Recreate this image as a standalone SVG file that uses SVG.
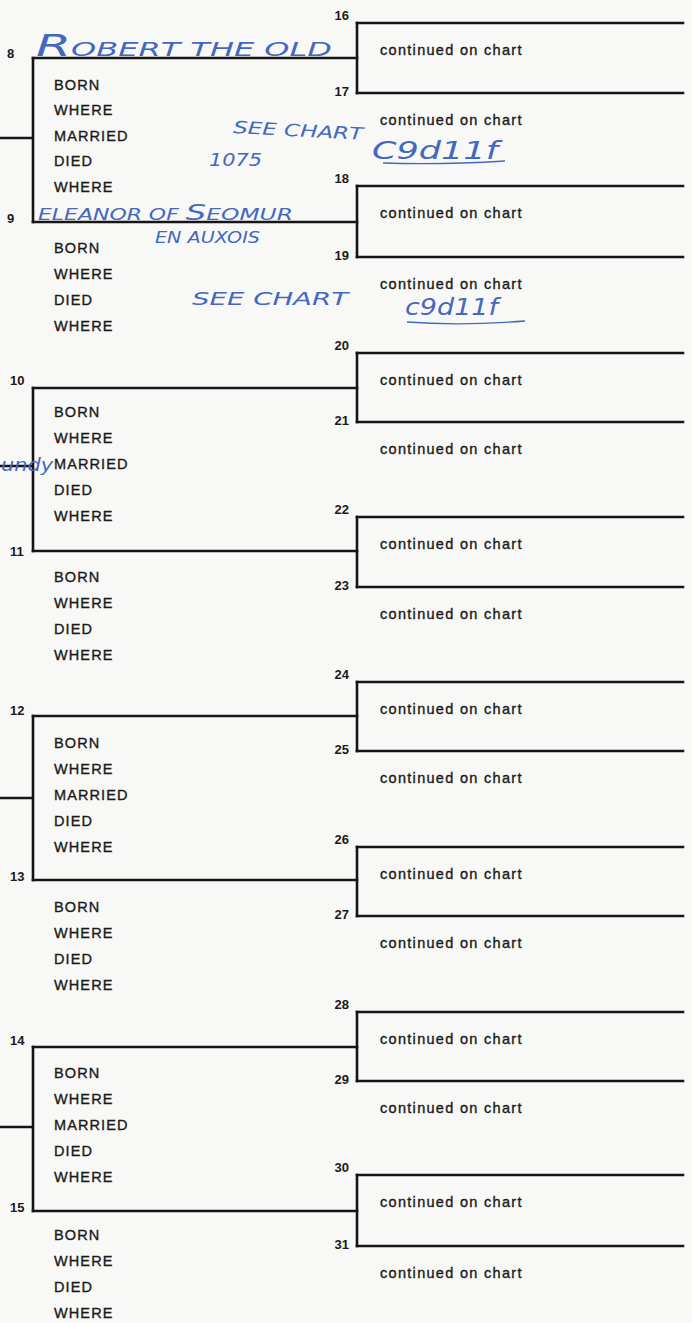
<svg xmlns="http://www.w3.org/2000/svg" width="692" height="1323" viewBox="0 0 692 1323">
<style>
.ln{stroke:#151515;stroke-width:2.6;fill:none;stroke-linecap:square}
.lbl{font-family:"Liberation Sans",Arial,sans-serif;font-size:14.5px;letter-spacing:1.1px;fill:#1a1a1a;stroke:#1a1a1a;stroke-width:0.35px}
.cont{font-family:"Liberation Sans",Arial,sans-serif;font-size:14.5px;letter-spacing:1.3px;fill:#1a1a1a;stroke:#1a1a1a;stroke-width:0.35px}
.num{font-family:"Liberation Sans",Arial,sans-serif;font-size:13px;font-weight:bold;fill:#1a1a1a}
.rn{text-anchor:end}
.hw{font-family:"DejaVu Sans",sans-serif;font-weight:200;font-style:italic;fill:#4467bf}
.ul{stroke:#4467bf;stroke-width:1.3;fill:none}
</style>
<rect x="0" y="0" width="692" height="1323" fill="#f8f8f6"/>

<g id="connectors">
  <path class="ln" d="M0 138H33M33 58V222"/>
  <path class="ln" d="M0 466H33M33 388V551"/>
  <path class="ln" d="M0 798H33M33 716V880"/>
  <path class="ln" d="M0 1127H33M33 1047V1211"/>
  <path class="ln" d="M357 23V93"/>
  <path class="ln" d="M357 186V257"/>
  <path class="ln" d="M357 353V422"/>
  <path class="ln" d="M357 517V587"/>
  <path class="ln" d="M357 682V751"/>
  <path class="ln" d="M357 847V916"/>
  <path class="ln" d="M357 1012V1081"/>
  <path class="ln" d="M357 1175V1246"/>
</g>

<g id="p8">
  <path class="ln" d="M33 58H357"/>
  <text class="num" x="7" y="58">8</text>
  <text class="lbl" x="54" y="89.5">BORN</text>
  <text class="lbl" x="54" y="115">WHERE</text>
  <text class="lbl" x="54" y="140.5">MARRIED</text>
  <text class="lbl" x="54" y="166">DIED</text>
  <text class="lbl" x="54" y="191.5">WHERE</text>
</g>
<g id="p9">
  <path class="ln" d="M33 222H357"/>
  <text class="num" x="7" y="223">9</text>
  <text class="lbl" x="54" y="252.5">BORN</text>
  <text class="lbl" x="54" y="278.5">WHERE</text>
  <text class="lbl" x="54" y="304.5">DIED</text>
  <text class="lbl" x="54" y="330.5">WHERE</text>
</g>
<g id="p10">
  <path class="ln" d="M33 388H357"/>
  <text class="num" x="10" y="385">10</text>
  <text class="lbl" x="54" y="417">BORN</text>
  <text class="lbl" x="54" y="443">WHERE</text>
  <text class="lbl" x="54" y="469">MARRIED</text>
  <text class="lbl" x="54" y="495">DIED</text>
  <text class="lbl" x="54" y="521">WHERE</text>
</g>
<g id="p11">
  <path class="ln" d="M33 551H357"/>
  <text class="num" x="10" y="556">11</text>
  <text class="lbl" x="54" y="581.5">BORN</text>
  <text class="lbl" x="54" y="607.5">WHERE</text>
  <text class="lbl" x="54" y="633.5">DIED</text>
  <text class="lbl" x="54" y="659.5">WHERE</text>
</g>
<g id="p12">
  <path class="ln" d="M33 716H357"/>
  <text class="num" x="10" y="715">12</text>
  <text class="lbl" x="54" y="747.5">BORN</text>
  <text class="lbl" x="54" y="773.5">WHERE</text>
  <text class="lbl" x="54" y="799.5">MARRIED</text>
  <text class="lbl" x="54" y="825.5">DIED</text>
  <text class="lbl" x="54" y="851.5">WHERE</text>
</g>
<g id="p13">
  <path class="ln" d="M33 880H357"/>
  <text class="num" x="10" y="881">13</text>
  <text class="lbl" x="54" y="911.5">BORN</text>
  <text class="lbl" x="54" y="937.5">WHERE</text>
  <text class="lbl" x="54" y="963.5">DIED</text>
  <text class="lbl" x="54" y="989.5">WHERE</text>
</g>
<g id="p14">
  <path class="ln" d="M33 1047H357"/>
  <text class="num" x="10" y="1045">14</text>
  <text class="lbl" x="54" y="1077.5">BORN</text>
  <text class="lbl" x="54" y="1103.5">WHERE</text>
  <text class="lbl" x="54" y="1129.5">MARRIED</text>
  <text class="lbl" x="54" y="1155.5">DIED</text>
  <text class="lbl" x="54" y="1181.5">WHERE</text>
</g>
<g id="p15">
  <path class="ln" d="M33 1211H357"/>
  <text class="num" x="10" y="1212">15</text>
  <text class="lbl" x="54" y="1239.5">BORN</text>
  <text class="lbl" x="54" y="1265.5">WHERE</text>
  <text class="lbl" x="54" y="1291.5">DIED</text>
  <text class="lbl" x="54" y="1317.5">WHERE</text>
</g>

<g id="p16"><path class="ln" d="M357 23H683"/><text class="num rn" x="349" y="20">16</text><text class="cont" x="380" y="54.5">continued on chart</text></g>
<g id="p17"><path class="ln" d="M357 93H683"/><text class="num rn" x="349" y="96">17</text><text class="cont" x="380" y="124.5">continued on chart</text></g>
<g id="p18"><path class="ln" d="M357 186H683"/><text class="num rn" x="349" y="183">18</text><text class="cont" x="380" y="217.5">continued on chart</text></g>
<g id="p19"><path class="ln" d="M357 257H683"/><text class="num rn" x="349" y="260">19</text><text class="cont" x="380" y="288.5">continued on chart</text></g>
<g id="p20"><path class="ln" d="M357 353H683"/><text class="num rn" x="349" y="350">20</text><text class="cont" x="380" y="384.5">continued on chart</text></g>
<g id="p21"><path class="ln" d="M357 422H683"/><text class="num rn" x="349" y="425">21</text><text class="cont" x="380" y="453.5">continued on chart</text></g>
<g id="p22"><path class="ln" d="M357 517H683"/><text class="num rn" x="349" y="514">22</text><text class="cont" x="380" y="548.5">continued on chart</text></g>
<g id="p23"><path class="ln" d="M357 587H683"/><text class="num rn" x="349" y="590">23</text><text class="cont" x="380" y="618.5">continued on chart</text></g>
<g id="p24"><path class="ln" d="M357 682H683"/><text class="num rn" x="349" y="679">24</text><text class="cont" x="380" y="713.5">continued on chart</text></g>
<g id="p25"><path class="ln" d="M357 751H683"/><text class="num rn" x="349" y="754">25</text><text class="cont" x="380" y="782.5">continued on chart</text></g>
<g id="p26"><path class="ln" d="M357 847H683"/><text class="num rn" x="349" y="844">26</text><text class="cont" x="380" y="878.5">continued on chart</text></g>
<g id="p27"><path class="ln" d="M357 916H683"/><text class="num rn" x="349" y="919">27</text><text class="cont" x="380" y="947.5">continued on chart</text></g>
<g id="p28"><path class="ln" d="M357 1012H683"/><text class="num rn" x="349" y="1009">28</text><text class="cont" x="380" y="1043.5">continued on chart</text></g>
<g id="p29"><path class="ln" d="M357 1081H683"/><text class="num rn" x="349" y="1084">29</text><text class="cont" x="380" y="1112.5">continued on chart</text></g>
<g id="p30"><path class="ln" d="M357 1175H683"/><text class="num rn" x="349" y="1172">30</text><text class="cont" x="380" y="1206.5">continued on chart</text></g>
<g id="p31"><path class="ln" d="M357 1246H683"/><text class="num rn" x="349" y="1249">31</text><text class="cont" x="380" y="1277.5">continued on chart</text></g>

<g id="handwriting">
  <text class="hw" x="36" y="56" textLength="296" lengthAdjust="spacingAndGlyphs"><tspan font-size="30">R</tspan><tspan font-size="19">OBERT THE OLD</tspan></text>
  <text class="hw" x="233" y="133" font-size="17" textLength="130" lengthAdjust="spacingAndGlyphs" transform="rotate(3 233 133)">SEE CHART</text>
  <text class="hw" x="372" y="159" font-size="24" textLength="126" lengthAdjust="spacingAndGlyphs">C9d11f</text>
  <path class="ul" d="M383 163Q440 165 505 161"/>
  <text class="hw" x="209" y="166" font-size="17" textLength="53" lengthAdjust="spacingAndGlyphs">1075</text>
  <text class="hw" x="38" y="220" textLength="255" lengthAdjust="spacingAndGlyphs"><tspan font-size="15">ELEANOR OF </tspan><tspan font-size="22">S</tspan><tspan font-size="16">EOMUR</tspan></text>
  <text class="hw" x="155" y="243" font-size="15" textLength="105" lengthAdjust="spacingAndGlyphs">EN AUXOIS</text>
  <text class="hw" x="192" y="305" font-size="17" textLength="156" lengthAdjust="spacingAndGlyphs">SEE CHART</text>
  <text class="hw" x="405" y="315" font-size="23" textLength="93" lengthAdjust="spacingAndGlyphs">c9d11f</text>
  <path class="ul" d="M407 322Q460 326 525 321"/>
  <text class="hw" x="1" y="471" font-size="18" textLength="52" lengthAdjust="spacingAndGlyphs">undy</text>
</g>
</svg>
